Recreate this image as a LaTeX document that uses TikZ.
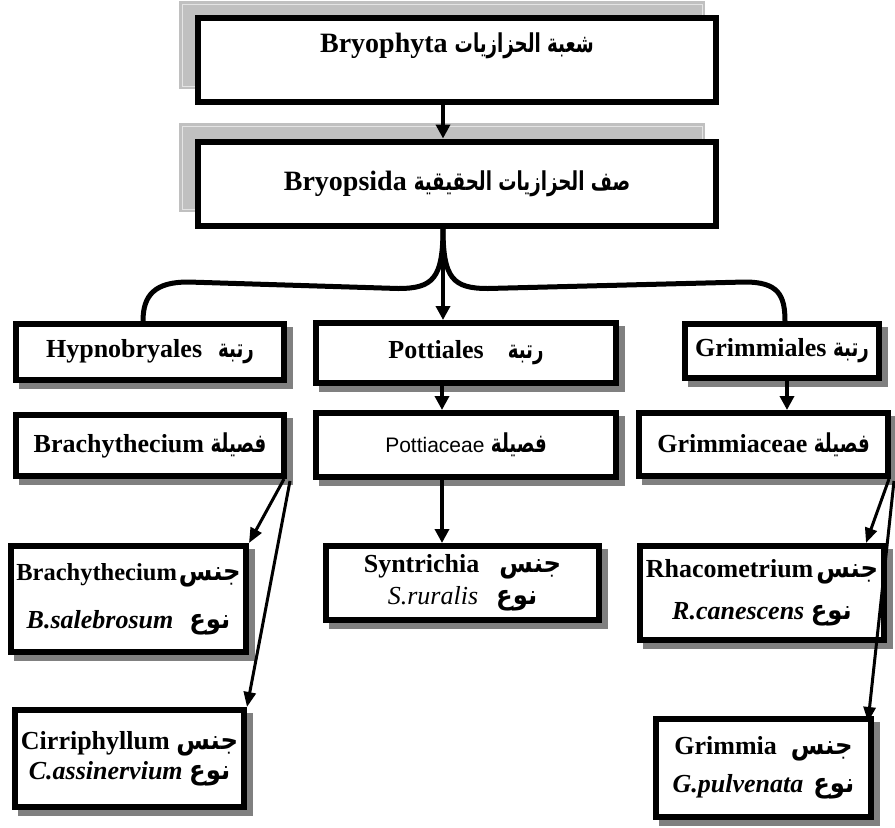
\documentclass[tikz,border=0pt]{standalone}
\usepackage{fontspec}
\setmainfont{Liberation Serif}
\newfontfamily\arabicfont[Script=Arabic,FakeStretch=0.7]{DejaVu Sans}
\newfontfamily\arabicwide[Script=Arabic,FakeStretch=0.9]{DejaVu Sans}
\newfontfamily\arialfont{Liberation Sans}
\TeXXeTstate=1
\usetikzlibrary{arrows.meta,calc}
\definecolor{panelgray}{RGB}{192,192,192}
\definecolor{bevel}{RGB}{228,228,228}
\definecolor{shadowgray}{RGB}{128,128,128}
\newcommand\artxt[1]{{\arabicfont\bfseries\fontsize{26}{30}\selectfont\beginR #1\endR}}
\newcommand\artxw[1]{{\arabicwide\bfseries\fontsize{27}{30}\selectfont\beginR #1\endR}}
\begin{document}
\begin{tikzpicture}[x=1pt,y=-1pt,
  box/.style={draw=black, line width=6pt, fill=white, inner sep=0pt, align=center,
    font=\bfseries\fontsize{26}{30}\selectfont},
  bigbox/.style={box, font=\bfseries\fontsize{28}{32}\selectfont},
  shbox/.style={box, preaction={draw=shadowgray, fill=shadowgray,
    transform canvas={shift={(6pt,-6pt)}}}},
  arr/.style={line width=4.5pt, -{Triangle[length=14pt,width=14pt]}},
  darr/.style={line width=3pt, -{Triangle[length=15pt,width=12pt]}},
  brace/.style={line width=5pt},
  panel/.style={fill=panelgray},
  bevelline/.style={draw=bevel, line width=1pt}]
\useasboundingbox (0,0) rectangle (895,828);
% 3D panels behind the two top boxes
\fill[panel] (179,1) rectangle (705,89);
\draw[bevelline] (182,4) rectangle (702,86);
\fill[panel] (179,123) rectangle (705,212);
\draw[bevelline] (182,126) rectangle (702,209);
% boxes
\node[bigbox, minimum width=518pt, minimum height=84pt, text height=21pt, text depth=37pt] (phy) at (457,60)
  {Bryophyta \artxt{شعبة الحزازيات}};
\node[bigbox, minimum width=518pt, minimum height=84pt] (cls) at (457,183.5)
  {Bryopsida \artxt{صف الحزازيات الحقيقية}};
\node[shbox, minimum width=268pt, minimum height=56pt] (hyp) at (150,352)
  {Hypnobryales\hspace{16pt}\artxt{رتبة}};
\node[shbox, minimum width=300pt, minimum height=60pt] (pot) at (466,353)
  {Pottiales\hspace{24pt}\artxt{رتبة}};
\node[shbox, minimum width=194pt, minimum height=54pt] (grm) at (782,351)
  {Grimmiales \artxt{رتبة}};
\node[shbox, minimum width=268pt, minimum height=61pt] (bfam) at (150,445.5)
  {Brachythecium \artxt{فصيلة}};
\node[shbox, minimum width=300pt, minimum height=64pt] (pfam) at (466,445)
  {{\arialfont\mdseries\fontsize{21}{25}\selectfont Pottiaceae} \artxt{فصيلة}};
\node[shbox, minimum width=249pt, minimum height=63pt] (gfam) at (763.5,444.5)
  {Grimmiaceae \artxt{فصيلة}};
\node[shbox, minimum width=235pt, minimum height=106pt] (bgen) at (128.5,599)
  {{\fontsize{24.5}{30}\selectfont Brachythecium}\hspace{2pt}\artxw{جنس}\\[18pt] \textit{B.salebrosum}\hspace{16pt}\artxw{نوع}};
\node[shbox, minimum width=229pt, minimum height=97pt] (cir) at (129.5,758.5)
  {Cirriphyllum \artxw{جنس}\\ \textit{C.assinervium} \artxw{نوع}};
\node[shbox, minimum width=273pt, minimum height=74pt] (syn) at (462.5,583)
  {Syntrichia\hspace{20pt}\artxw{جنس}\\[2pt] {\mdseries\itshape S.ruralis}\hspace{18pt}\artxw{نوع}};
\node[shbox, minimum width=244pt, minimum height=94pt] (rha) at (762,593)
  {Rhacometrium\hspace{3pt}\artxw{جنس}\\[12pt] \textit{R.canescens} \artxw{نوع}};
\node[shbox, minimum width=215pt, minimum height=98pt] (grmm) at (763.5,768)
  {Grimmia\hspace{14pt}\artxw{جنس}\\[8pt] \textit{G.pulvenata}\hspace{10pt}\artxw{نوع}};
% connectors
\coordinate (stem) at ($(cls.south)+(-14,0)$);
\draw[arr] ($(phy.south)+(-14,0)$) -- ($(cls.north)+(-14,0)$);
\draw[brace] (stem) .. controls +(0,50) and +(35,0) .. ($(stem)+(-45,60)$)
  -- ($(hyp.north)+(38,-39)$) .. controls +(-33,0) and +(0,-26) .. ($(hyp.north)+(-7,0)$);
\draw[brace] (stem) .. controls +(0,50) and +(-35,0) .. ($(stem)+(45,60)$)
  -- ($(grm.north)+(-37,-39)$) .. controls +(33,0) and +(0,-26) .. ($(grm.north)+(3,0)$);
\draw[arr] (stem) -- (stem |- pot.north);
\draw[arr] ($(pot.south)+(-24,0)$) coordinate (p1) -- (p1 |- pfam.north);
\draw[arr] ($(pfam.south)+(-24,0)$) coordinate (p2) -- (p2 |- syn.north);
\draw[arr] ($(grm.south)+(5,0)$) coordinate (g1) -- (g1 |- gfam.north);
\draw[darr] ($(bfam.south east)+(-3,0)$) -- (bgen.north east);
\draw[darr] ($(bfam.south east)+(3,2)$) -- (cir.north east);
\draw[darr] ($(gfam.south east)+(-2,0)$) -- ($(rha.north east)+(-21,0)$);
\draw[darr] ($(gfam.south east)+(3,2)$) -- ($(grmm.north east)+(-6,6)$);
\end{tikzpicture}
\end{document}
